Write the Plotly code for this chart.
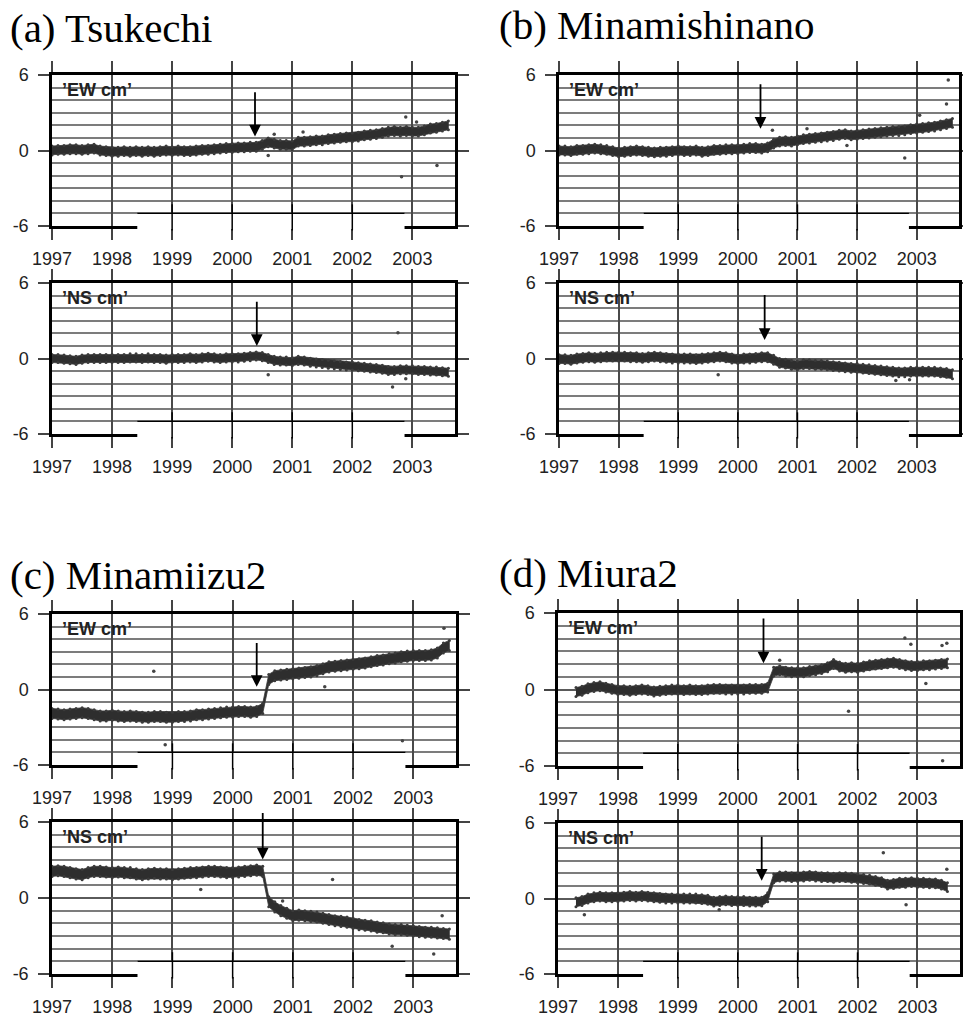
import plotly.graph_objects as go

# ---------------- data ----------------
years = [1997.0, 1997.1, 1997.2, 1997.3, 1997.4, 1997.5, 1997.6, 1997.7, 1997.8, 1997.9,
         1998.0, 1998.1, 1998.2, 1998.3, 1998.4, 1998.5, 1998.6, 1998.7, 1998.8, 1998.9,
         1999.0, 1999.1, 1999.2, 1999.3, 1999.4, 1999.5, 1999.6, 1999.7, 1999.8, 1999.9,
         2000.0, 2000.1, 2000.2, 2000.3, 2000.4, 2000.5, 2000.6, 2000.7, 2000.8, 2000.9,
         2001.0, 2001.1, 2001.2, 2001.3, 2001.4, 2001.5, 2001.6, 2001.7, 2001.8, 2001.9,
         2002.0, 2002.1, 2002.2, 2002.3, 2002.4, 2002.5, 2002.6, 2002.7, 2002.8, 2002.9,
         2003.0, 2003.1, 2003.2, 2003.3, 2003.4, 2003.5, 2003.6]

tsukechi_ew = [0.0, 0.05, 0.05, 0.1, 0.1, 0.05, 0.1, 0.15, 0.0, -0.05,
               -0.1, -0.1, -0.05, -0.1, -0.05, -0.1, -0.05, -0.1, -0.05, 0.0,
               -0.05, 0.0, -0.05, -0.05, 0.0, 0.05, 0.05, 0.1, 0.15, 0.2,
               0.2, 0.25, 0.25, 0.3, 0.3, 0.45, 0.65, 0.55, 0.45, 0.45,
               0.4, 0.7, 0.7, 0.75, 0.8, 0.8, 0.9, 0.95, 1.0, 1.05,
               1.05, 1.1, 1.2, 1.25, 1.3, 1.4, 1.5, 1.55, 1.5, 1.55,
               1.5, 1.5, 1.6, 1.75, 1.8, 1.9, 2.0]
tsukechi_ns = [0.0, 0.0, -0.05, -0.1, -0.15, -0.05, 0.0, 0.0, 0.0, 0.0,
               0.0, 0.0, 0.0, 0.05, 0.05, 0.0, 0.05, 0.0, 0.0, -0.05,
               0.0, 0.0, 0.0, 0.05, 0.0, 0.05, 0.1, 0.05, 0.0, 0.05,
               0.05, 0.05, 0.1, 0.15, 0.2, 0.15, 0.0, -0.15, -0.2, -0.2,
               -0.25, -0.15, -0.2, -0.3, -0.35, -0.4, -0.45, -0.5, -0.55, -0.6,
               -0.6, -0.65, -0.7, -0.75, -0.8, -0.85, -0.95, -0.95, -0.9, -0.9,
               -0.9, -0.95, -0.95, -1.0, -1.0, -1.05, -1.1]
minamishinano_ew = [0.0, 0.0, -0.05, 0.05, 0.05, 0.1, 0.15, 0.1, 0.05, -0.05,
                    -0.15, -0.1, -0.05, 0.0, -0.05, -0.1, -0.15, -0.1, -0.1, -0.05,
                    0.0, -0.05, -0.05, 0.0, -0.1, -0.05, 0.05, 0.05, 0.1, 0.1,
                    0.1, 0.15, 0.2, 0.2, 0.15, 0.25, 0.55, 0.7, 0.75, 0.7,
                    0.8, 0.9, 0.95, 1.0, 1.05, 1.1, 1.15, 1.25, 1.3, 1.2,
                    1.25, 1.3, 1.35, 1.4, 1.45, 1.5, 1.55, 1.55, 1.6, 1.7,
                    1.75, 1.8, 1.85, 1.9, 2.0, 2.1, 2.2]
minamishinano_ns = [-0.05, -0.05, -0.1, 0.0, 0.05, 0.1, 0.05, 0.1, 0.15, 0.15,
                    0.15, 0.15, 0.1, 0.1, 0.05, 0.1, 0.15, 0.1, 0.05, 0.0,
                    0.0, 0.0, 0.0, -0.05, 0.0, 0.05, 0.1, 0.15, 0.1, 0.0,
                    -0.05, 0.0, 0.0, 0.05, 0.1, 0.1, -0.1, -0.35, -0.4, -0.5,
                    -0.55, -0.45, -0.45, -0.5, -0.5, -0.55, -0.6, -0.65, -0.7, -0.75,
                    -0.75, -0.8, -0.85, -0.9, -0.95, -1.0, -1.05, -1.1, -1.1, -1.05,
                    -1.05, -1.05, -1.05, -1.05, -1.1, -1.15, -1.25]
minamiizu2_ew = [-1.9, -1.95, -2.0, -1.95, -1.9, -1.85, -1.9, -2.0, -2.1, -2.1,
                 -2.05, -2.1, -2.15, -2.1, -2.15, -2.2, -2.2, -2.15, -2.15, -2.2,
                 -2.2, -2.15, -2.15, -2.1, -2.0, -2.0, -1.95, -1.9, -1.85, -1.8,
                 -1.8, -1.75, -1.75, -1.8, -1.75, -1.5, 0.8, 1.1, 1.15, 1.2,
                 1.25, 1.3, 1.35, 1.4, 1.5, 1.65, 1.8, 1.85, 1.9, 1.95,
                 2.0, 2.05, 2.1, 2.2, 2.3, 2.35, 2.45, 2.5, 2.6, 2.65,
                 2.7, 2.7, 2.7, 2.75, 2.9, 3.3, 3.5]
minamiizu2_ns = [2.1, 2.15, 2.1, 2.0, 1.9, 1.85, 2.0, 2.1, 2.1, 2.05,
                 2.0, 2.05, 2.0, 2.0, 1.9, 1.85, 1.9, 1.95, 1.9, 1.9,
                 1.85, 1.9, 1.95, 2.0, 2.0, 2.05, 2.1, 2.1, 2.05, 2.0,
                 2.0, 2.05, 2.1, 2.15, 2.2, 2.1, -0.3, -0.7, -1.0, -1.2,
                 -1.4, -1.35, -1.4, -1.45, -1.5, -1.6, -1.7, -1.8, -1.85, -1.9,
                 -2.0, -2.1, -2.15, -2.2, -2.3, -2.35, -2.45, -2.5, -2.5, -2.55,
                 -2.6, -2.65, -2.7, -2.7, -2.75, -2.8, -2.85]
miura2_ew = [None, None, None, -0.2, -0.1, 0.1, 0.2, 0.25, 0.15, 0.05,
             -0.05, -0.05, -0.1, -0.05, 0.0, -0.05, -0.15, -0.1, -0.05, 0.0,
             0.0, -0.05, 0.0, -0.05, -0.05, 0.0, 0.05, 0.05, 0.0, 0.0,
             0.0, 0.0, 0.05, 0.05, 0.05, 0.15, 1.4, 1.5, 1.4, 1.35,
             1.35, 1.35, 1.45, 1.5, 1.6, 1.75, 2.0, 1.8, 1.7, 1.75,
             1.7, 1.8, 1.9, 1.95, 2.0, 2.05, 2.1, 2.0, 1.9, 1.85,
             1.85, 1.9, 1.9, 1.95, 2.0, 2.05, None]
miura2_ns = [None, None, None, -0.3, -0.2, 0.0, 0.1, 0.15, 0.1, 0.1,
             0.1, 0.15, 0.2, 0.15, 0.2, 0.15, 0.1, 0.05, 0.0, 0.0,
             0.0, 0.0, 0.0, 0.0, -0.05, -0.1, -0.25, -0.2, -0.15, -0.2,
             -0.2, -0.2, -0.25, -0.25, -0.25, 0.1, 1.6, 1.75, 1.75, 1.7,
             1.7, 1.75, 1.8, 1.75, 1.7, 1.7, 1.65, 1.7, 1.7, 1.65,
             1.6, 1.55, 1.5, 1.4, 1.3, 1.1, 1.15, 1.25, 1.25, 1.3,
             1.25, 1.25, 1.2, 1.2, 1.1, 0.9, None]

# half-thickness of the dense point cloud (cm)
cloud_halfwidth = [0.35, 0.32, 0.35, 0.35, 0.4, 0.4, 0.35, 0.35]

# isolated points outside the cloud (year, cm)
tsukechi_ew_out_t = [2002.89, 2002.82, 2003.41, 2000.6, 2001.18, 2003.07, 2000.7]
tsukechi_ew_out_y = [2.67, -2.08, -1.2, -0.4, 1.47, 2.27, 1.3]
tsukechi_ns_out_t = [2002.67, 2002.89, 2000.6, 2002.76]
tsukechi_ns_out_y = [-2.26, -1.6, -1.3, 2.05]
minamishinano_ew_out_t = [2003.53, 2003.5, 2002.8, 2003.05, 2000.58, 2001.16, 2001.83]
minamishinano_ew_out_y = [5.6, 3.7, -0.6, 2.8, 1.6, 1.73, 0.4]
minamishinano_ns_out_t = [1999.67, 2002.65, 2002.88]
minamishinano_ns_out_y = [-1.29, -1.74, -1.68]
minamiizu2_ew_out_t = [2002.82, 2001.53, 2003.51, 1998.88, 1998.69]
minamiizu2_ew_out_y = [-4.08, 0.21, 4.87, -4.4, 1.45]
minamiizu2_ns_out_t = [2001.66, 1999.47, 2003.48, 2003.34, 2002.65, 2000.83]
minamiizu2_ns_out_y = [1.47, 0.68, -1.41, -4.42, -3.8, -0.24]
miura2_ew_out_t = [2002.79, 2002.89, 2001.85, 2003.14, 2003.41, 2003.49, 2003.42, 2000.7]
miura2_ew_out_y = [4.03, 3.55, -1.71, 0.47, 3.45, 3.63, -5.58, 2.3]
miura2_ns_out_t = [1997.44, 2002.81, 2003.49, 2002.43, 1999.69]
miura2_ns_out_y = [-1.29, -0.5, 2.32, 3.63, -0.9]

# event arrows: year, tail value, tip value
arrow_t = [2000.38, 2000.41, 2000.38, 2000.45, 2000.40, 2000.50, 2000.43, 2000.40]
arrow_tail = [4.75, 4.63, 5.39, 5.16, 3.82, 6.83, 5.68, 5.03]
arrow_tip = [1.12, 1.0, 1.73, 1.47, 0.21, 3.04, 2.05, 1.42]

station_titles = ["(a) Tsukechi", "(b) Minamishinano", "(c) Minamiizu2", "(d) Miura2"]
component_labels = ["\u2019EW cm\u2019", "\u2019NS cm\u2019"]
year_ticks = [1997, 1998, 1999, 2000, 2001, 2002, 2003]
year_ticklabels = ["1997", "1998", "1999", "2000", "2001", "2002", "2003"]
cm_ticks = [-6, 0, 6]
cm_ticklabels = ["-6", "0", "6"]
x_range = [1997.0, 2003.71]
y_range = [-6, 6]

# scan artefact at the bottom of each frame (white patch with a line at -5 cm)
patch_t = [1998.42, 2002.87]
patch_level = -5

series = [tsukechi_ew, tsukechi_ns, minamishinano_ew, minamishinano_ns,
          minamiizu2_ew, minamiizu2_ns, miura2_ew, miura2_ns]
outliers = [(tsukechi_ew_out_t, tsukechi_ew_out_y), (tsukechi_ns_out_t, tsukechi_ns_out_y),
            (minamishinano_ew_out_t, minamishinano_ew_out_y), (minamishinano_ns_out_t, minamishinano_ns_out_y),
            (minamiizu2_ew_out_t, minamiizu2_ew_out_y), (minamiizu2_ns_out_t, minamiizu2_ns_out_y),
            (miura2_ew_out_t, miura2_ew_out_y), (miura2_ns_out_t, miura2_ns_out_y)]

# ---------------- layout geometry ----------------
W, H = 963, 1018
col_px = [(52, 455), (559, 959), (52, 456), (558, 960)]          # per station
row_px = [[(75, 226), (283, 434)], [(75, 226), (283, 434)],
          [(614, 765), (822, 974)], [(613, 766), (823, 974)]]
title_px = [(8, 28), (497, 25), (8, 575), (497, 573)]

fig = go.Figure()
layout = dict(template="none", width=W, height=H, autosize=False,
              margin=dict(l=0, r=0, t=0, b=0, pad=0, autoexpand=False),
              paper_bgcolor="white", plot_bgcolor="white", showlegend=False)
annotations = []
shapes = []

CLOUD = "#2e2e2e"
TICKFONT = dict(family="Liberation Sans, Arial", size=18, color="#222")

for i in range(8):
    st = i // 2
    comp = i % 2
    n = i + 1
    xa = "x" if n == 1 else f"x{n}"
    ya = "y" if n == 1 else f"y{n}"
    xkey = "xaxis" if n == 1 else f"xaxis{n}"
    ykey = "yaxis" if n == 1 else f"yaxis{n}"

    vals = series[i]
    hw = cloud_halfwidth[i]
    t_ok = [t for t, v in zip(years, vals) if v is not None]
    v_ok = [v for v in vals if v is not None]
    upper = [v + hw for v in v_ok]
    lower = [v - hw for v in v_ok]
    fig.add_trace(go.Scatter(x=t_ok + t_ok[::-1], y=upper + lower[::-1],
                             fill="toself", fillcolor=CLOUD, mode="lines",
                             line=dict(width=0.8, color="#3a3a3a"),
                             xaxis=xa, yaxis=ya, hoverinfo="skip"))
    fig.add_trace(go.Scatter(x=t_ok + t_ok, y=upper + lower, mode="markers",
                             marker=dict(size=3, color="#3a3a3a"),
                             xaxis=xa, yaxis=ya, hoverinfo="skip"))
    ot, oy = outliers[i]
    fig.add_trace(go.Scatter(x=ot, y=oy, mode="markers",
                             marker=dict(size=3.5, color="#444"),
                             xaxis=xa, yaxis=ya, hoverinfo="skip"))

    x0, x1 = col_px[st]
    top, bot = row_px[st][comp]
    layout[xkey] = dict(type="linear", domain=[x0 / W, x1 / W], range=x_range, anchor=ya,
                        automargin=False,
                        tickmode="array", tickvals=year_ticks, ticktext=year_ticklabels,
                        ticks="outside", ticklen=11, tickwidth=2, tickcolor="#444",
                        ticklabelstandoff=4,
                        showgrid=True, gridcolor="#4a4a4a", gridwidth=2,
                        showline=True, linecolor="black", linewidth=2.5, mirror="ticks",
                        zeroline=False, tickfont=TICKFONT)
    layout[ykey] = dict(type="linear", domain=[1 - bot / H, 1 - top / H], range=y_range, anchor=xa,
                        automargin=False,
                        tickmode="array", tickvals=cm_ticks, ticktext=cm_ticklabels,
                        ticks="outside", ticklen=11, tickwidth=2, tickcolor="#444",
                        ticklabelstandoff=6,
                        showgrid=True, gridcolor="#5a5a5a", gridwidth=2,
                        minor=dict(tickmode="linear", tick0=0, dtick=1, showgrid=True,
                                   gridcolor="#7c7c7c", gridwidth=1.8, ticks=""),
                        showline=True, linecolor="black", linewidth=2.5, mirror="ticks",
                        zeroline=False, tickfont=TICKFONT)

    # component label
    annotations.append(dict(text="<b>" + component_labels[comp] + "</b>",
                            xref=f"{xa} domain", yref=f"{ya} domain",
                            x=0.02, y=0.9, xanchor="left", yanchor="middle", showarrow=False,
                            font=dict(family="Liberation Sans, Arial", size=18, color="#222")))
    # arrow marking the event
    annotations.append(dict(x=arrow_t[i], y=arrow_tip[i], ax=arrow_t[i], ay=arrow_tail[i],
                            xref=xa, yref=ya, axref=xa, ayref=ya, text="", showarrow=True,
                            arrowhead=2, arrowsize=1.3, arrowwidth=1.8, arrowcolor="black"))

    # scan artefact at the bottom of the frame
    level_dom = (patch_level - y_range[0]) / (y_range[1] - y_range[0])
    shapes.append(dict(type="rect", xref=xa, yref=f"{ya} domain", layer="above",
                       x0=patch_t[0], x1=patch_t[1], y0=-0.02, y1=level_dom,
                       fillcolor="white", line=dict(width=0)))
    shapes.append(dict(type="line", xref=xa, yref=f"{ya} domain", layer="above",
                       x0=patch_t[0], x1=patch_t[1], y0=level_dom, y1=level_dom,
                       line=dict(color="black", width=1.3)))
    for yr in year_ticks:
        if patch_t[0] < yr < patch_t[1]:
            shapes.append(dict(type="line", xref=xa, yref=f"{ya} domain", layer="above",
                               x0=yr, x1=yr, y0=-0.03, y1=level_dom + 0.06,
                               line=dict(color="black", width=1.5)))

for s in range(4):
    tx, ty = title_px[s]
    annotations.append(dict(text=station_titles[s], xref="paper", yref="paper",
                            x=tx / W, y=1 - ty / H, xanchor="left", yanchor="middle",
                            showarrow=False,
                            font=dict(family="Liberation Serif, Times New Roman", size=41, color="black")))

layout["annotations"] = annotations
layout["shapes"] = shapes
fig.update_layout(**layout)
fig.write_html("out.html", config={"displayModeBar": False},
               post_script="document.body.style.margin='0';document.body.style.padding='0';"
                           "document.body.style.overflow='hidden';")
